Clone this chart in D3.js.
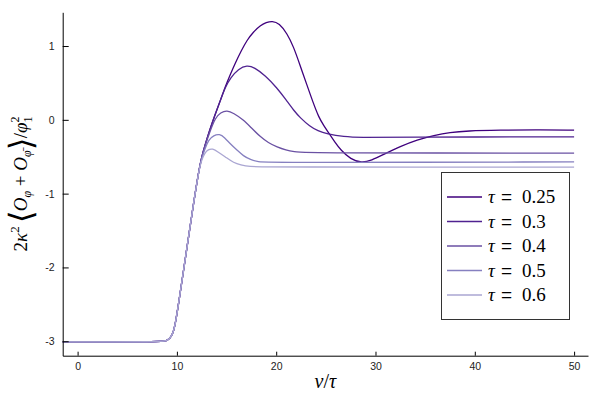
<!DOCTYPE html>
<html>
<head>
<meta charset="utf-8">
<script src="https://cdn.jsdelivr.net/npm/d3@7"></script>
<style>
  body { margin: 0; background: #fff; }
  text { font-family: "Liberation Sans", "DejaVu Sans", sans-serif; }
  .tex { font-family: "Liberation Serif", "DejaVu Serif", serif; }
</style>
</head>
<body>
<svg width="600" height="400"></svg>
<script>
// values
var taus = [0.25, 0.3, 0.4, 0.5, 0.6];
var colors = ["#3f007d", "#4f2290", "#6a51a3", "#8680c0", "#aaa6d2"];
var xTicks = [0, 10, 20, 30, 40, 50];
var yTicks = [-3, -2, -1, 0, 1];

var v025 = [-1.5, 8.6, 9.0, 9.3, 9.55, 9.8, 10.17, 10.67, 11.18, 11.68, 12.19, 12.5, 12.86, 13.3, 13.87, 14.4, 14.87, 15.4, 15.88, 16.5, 17.06, 17.7, 18.4, 19.0, 19.6, 20.3, 21.1, 21.75, 22.4, 23.1, 23.7, 24.3, 24.8, 25.3, 25.9, 26.5, 27.5, 28.6, 29.6, 30.8, 32.5, 34.2, 35.9, 37.5, 39.2, 42.6, 46, 50];
var y025 = [-3.01, -3.01, -2.99, -2.96, -2.91, -2.8, -2.49, -2.04, -1.58, -1.13, -0.7, -0.5, -0.33, -0.14, 0.08, 0.27, 0.45, 0.62, 0.77, 0.94, 1.08, 1.19, 1.28, 1.32, 1.34, 1.31, 1.17, 0.99, 0.74, 0.47, 0.24, 0.03, -0.08, -0.18, -0.3, -0.41, -0.535, -0.585, -0.55, -0.47, -0.36, -0.27, -0.21, -0.17, -0.15, -0.14, -0.135, -0.14];

var v03 = [-1.5, 8.6, 9.0, 9.3, 9.55, 9.8, 10.17, 10.67, 11.18, 11.68, 12.19, 12.5, 12.86, 13.3, 13.87, 14.4, 14.87, 15.4, 16.2, 17.06, 17.8, 18.9, 20.1, 21.0, 21.75, 22.4, 23.4, 24.2, 25.1, 26.8, 28.5, 32, 50];
var y03 = [-3.01, -3.01, -2.99, -2.96, -2.91, -2.8, -2.49, -2.04, -1.58, -1.13, -0.7, -0.5, -0.33, -0.14, 0.08, 0.27, 0.44, 0.57, 0.69, 0.74, 0.71, 0.6, 0.43, 0.27, 0.13, 0.03, -0.09, -0.15, -0.19, -0.23, -0.24, -0.235, -0.23];

var v04 = [-1.5, 8.6, 9.0, 9.3, 9.55, 9.8, 10.17, 10.67, 11.18, 11.68, 12.19, 12.5, 12.86, 13.3, 13.87, 14.4, 15.05, 15.7, 16.7, 17.5, 18.4, 19.2, 20.1, 21.0, 21.75, 23, 50];
var y04 = [-3.01, -3.01, -2.99, -2.96, -2.91, -2.8, -2.49, -2.04, -1.58, -1.13, -0.7, -0.5, -0.34, -0.17, 0.03, 0.1, 0.13, 0.09, 0.0, -0.11, -0.23, -0.31, -0.37, -0.41, -0.43, -0.45, -0.45];

var v05 = [-1.5, 8.6, 9.0, 9.3, 9.55, 9.8, 10.17, 10.67, 11.18, 11.68, 12.19, 12.5, 12.86, 13.2, 13.7, 14.3, 14.8, 15.4, 16.05, 16.7, 17.4, 18.2, 19.1, 50];
var y05 = [-3.01, -3.01, -2.99, -2.96, -2.91, -2.8, -2.49, -2.04, -1.58, -1.13, -0.7, -0.52, -0.38, -0.27, -0.21, -0.19, -0.24, -0.33, -0.41, -0.49, -0.54, -0.57, -0.58, -0.57];

var v06 = [-1.5, 8.6, 9.0, 9.3, 9.55, 9.8, 10.17, 10.67, 11.18, 11.68, 12.19, 12.5, 12.8, 13.15, 13.6, 14.1, 15.05, 15.7, 16.4, 17.4, 18.4, 50];
var y06 = [-3.01, -3.01, -2.99, -2.96, -2.91, -2.8, -2.49, -2.04, -1.58, -1.13, -0.7, -0.54, -0.45, -0.4, -0.39, -0.43, -0.52, -0.58, -0.61, -0.635, -0.64, -0.64];

var seriesV = [v025, v03, v04, v05, v06];
var seriesY = [y025, y03, y04, y05, y06];

var svg = d3.select("svg");
var pLeft = 62.7, pRight = 588, pTop = 12.3, pBottom = 355.7;

var x = d3.scaleLinear().domain([-1.5, 51.4]).range([pLeft, pRight]);
var y = d3.scaleLinear().domain([-3.196, 1.457]).range([pBottom, pTop]);

// curves, darkest first so the light ones sit on top
var line = d3.line()
  .x(function(d) { return x(d[0]); })
  .y(function(d) { return y(d[1]); })
  .curve(d3.curveBasis);

var g = svg.append("g").attr("class", "lines");
for (var i = 0; i < taus.length; i++) {
  var pts = d3.zip(seriesV[i], seriesY[i]);
  g.append("path")
    .datum(pts)
    .attr("d", line)
    .attr("fill", "none")
    .attr("stroke", colors[i])
    .attr("stroke-width", 1.3);
}

// axes, ticks point inward
var xAxis = svg.append("g").attr("transform", "translate(0," + pBottom + ")")
  .call(d3.axisBottom(x).tickValues(xTicks).tickFormat(d3.format("d"))
    .tickSizeInner(-4).tickSizeOuter(0).tickPadding(7));
var yAxis = svg.append("g").attr("transform", "translate(" + pLeft + ",0)")
  .call(d3.axisLeft(y).tickValues(yTicks).tickFormat(d3.format("d"))
    .tickSizeInner(-6).tickSizeOuter(0).tickPadding(8));
[xAxis, yAxis].forEach(function(a) {
  a.select(".domain").attr("stroke", "#000").attr("stroke-width", 1);
  a.selectAll(".tick line").attr("stroke", "#000");
  a.selectAll(".tick text").attr("font-size", 10.5).attr("fill", "#222")
    .attr("font-family", "Liberation Sans, DejaVu Sans, sans-serif")
    .text(function(d) { return String(d); });
});

// x label
var xl = svg.append("text").attr("class", "tex")
  .attr("x", (pLeft + pRight) / 2).attr("y", 388)
  .attr("text-anchor", "middle").attr("font-size", 20);
xl.append("tspan").attr("font-style", "italic").text("v");
xl.append("tspan").text("/");
xl.append("tspan").attr("font-style", "italic").text("τ");

// y label (rotated; dy > 0 moves toward the plot)
var yl = svg.append("text").attr("class", "tex")
  .attr("transform", "translate(27," + ((pTop + pBottom) / 2) + ") rotate(-90)")
  .attr("text-anchor", "middle").attr("font-size", 19);
yl.append("tspan").text("2");
yl.append("tspan").attr("font-style", "italic").text("κ");
yl.append("tspan").attr("font-size", 13).attr("dy", -8).text("2");
yl.append("tspan").attr("font-size", 32).attr("dy", 13).attr("dx", 3)
  .attr("font-family", "DejaVu Sans").attr("font-weight", 200).text("⟨");
yl.append("tspan").attr("font-style", "italic").attr("dy", -5).text("O");
yl.append("tspan").attr("font-size", 12).attr("font-style", "italic").attr("dy", 4).text("φ");
yl.append("tspan").attr("dy", -4).text(" + ");
yl.append("tspan").attr("font-style", "italic").text("O");
yl.append("tspan").attr("font-size", 12).attr("font-style", "italic").attr("dy", 4).text("φ̄");
yl.append("tspan").attr("font-size", 32).attr("dy", 1)
  .attr("font-family", "DejaVu Sans").attr("font-weight", 200).text("⟩");
yl.append("tspan").attr("dy", -5).text("/");
yl.append("tspan").attr("font-style", "italic").text("φ");
yl.append("tspan").attr("font-size", 12).attr("dy", 5).text("1");
yl.append("tspan").attr("font-size", 12).attr("dx", -6).attr("dy", -13).text("2");

// legend
var lg = svg.append("g");
lg.append("rect").attr("x", 441.5).attr("y", 172.5).attr("width", 128).attr("height", 147)
  .attr("fill", "#fff").attr("stroke", "#333").attr("stroke-width", 1);
var rowY = d3.scaleLinear().domain([0, 4]).range([197, 295]);
for (var k = 0; k < taus.length; k++) {
  var ly = rowY(k);
  lg.append("line").attr("x1", 447).attr("x2", 482).attr("y1", ly).attr("y2", ly)
    .attr("stroke", colors[k]).attr("stroke-width", 1.3);
  lg.append("text").attr("class", "tex").attr("x", 488).attr("y", ly + 6)
    .attr("font-size", 19).attr("font-style", "italic").text("τ");
  lg.append("text").attr("x", 501).attr("y", ly + 6)
    .attr("font-family", "DejaVu Serif").attr("font-size", 19).text("=");
  lg.append("text").attr("class", "tex").attr("x", 522).attr("y", ly + 6)
    .attr("font-size", 19).text(String(taus[k]));
}
</script>
</body>
</html>
